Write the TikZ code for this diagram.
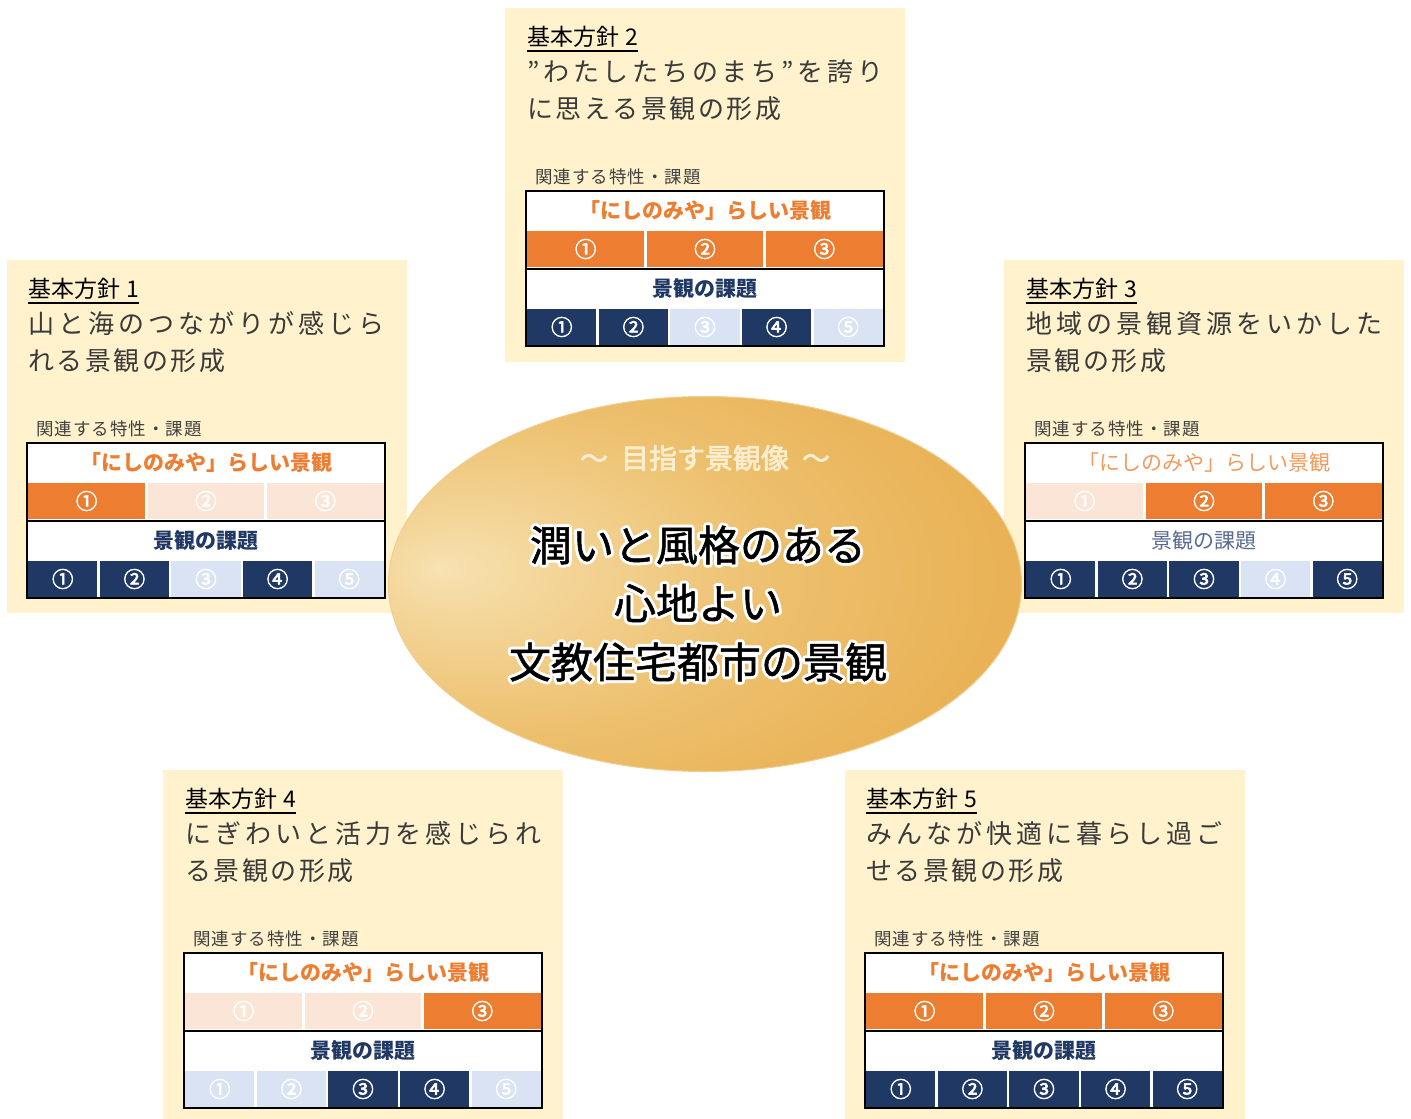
\documentclass[tikz,border=0pt]{standalone}
\usepackage{fontspec}
\setmainfont{Noto Sans CJK JP}
\usetikzlibrary{shapes.geometric,calc}
\definecolor{panelbg}{HTML}{FFF2CC}
\definecolor{OR}{HTML}{ED7D31}
\definecolor{OL}{HTML}{FBE5D6}
\definecolor{NV}{HTML}{1F3864}
\definecolor{NL}{HTML}{DAE3F3}
\definecolor{ORlt}{HTML}{F29A5C}
\definecolor{NVlt}{HTML}{5A6B92}
\definecolor{gA}{RGB}{247,226,178}
\definecolor{gA2}{RGB}{244,215,156}
\definecolor{gB}{RGB}{237,192,110}
\definecolor{gC}{RGB}{233,178,86}
\definecolor{gD}{RGB}{231,174,80}
\definecolor{rim}{RGB}{240,205,140}
\definecolor{subttl}{RGB}{251,238,208}
\definecolor{bodytxt}{RGB}{58,58,58}
\definecolor{captxt}{RGB}{64,64,64}
\pgfdeclareradialshading{goldshade}{\pgfpoint{-21bp}{2bp}}{color(0bp)=(gA); color(6bp)=(gA2); color(21bp)=(gB); color(35bp)=(gC); color(78bp)=(gD)}
\makeatletter
\def\trk@end{\trk@end@}
\def\trk@first#1{#1\trk@loop}
\def\trk@loop#1{\ifx#1\trk@end\else\trk@sp#1\expandafter\trk@loop\fi}
\def\trk#1#2{{\def\trk@sp{\hspace{#1}}\trk@first#2\trk@end}}
\def\jus#1#2{\makebox[#1][l]{\def\trk@sp{\hfill}\trk@first#2\trk@end}}
\makeatother
\newcommand\circnum[1]{\special{pdf:literal direct 2 Tr 0.6 w 1 1 1 RG}\ifcase#1\or ①\or ②\or ③\or ④\or ⑤\fi\special{pdf:literal direct 0 Tr}}
\tikzset{
  cell/.style={draw=white, line width=2.4pt, inner sep=0pt, minimum height=38pt, text=white, font=\fontsize{21.5pt}{21.5pt}\selectfont},
  hdro/.style={text=OR, inner sep=0pt, font=\bfseries\fontsize{21pt}{21pt}\selectfont},
  hdrn/.style={text=NV, inner sep=0pt, font=\bfseries\fontsize{21pt}{21pt}\selectfont},
  hdrlto/.style={text=ORlt, inner sep=0pt, font=\fontsize{21pt}{21pt}\selectfont},
  hdrltn/.style={text=NVlt, inner sep=0pt, font=\fontsize{21pt}{21pt}\selectfont},
  ttl/.style={anchor=base west, inner sep=0pt, text=black, font=\fontsize{23pt}{23pt}\selectfont},
  bodyt/.style={anchor=base west, inner sep=0pt, text=bodytxt, font=\fontsize{26pt}{26pt}\selectfont},
  capt/.style={anchor=base west, inner sep=0pt, text=captxt, font=\fontsize{17.5pt}{17.5pt}\selectfont},
  goaltxt/.style={inner sep=0pt, text=black, font=\fontsize{42pt}{42pt}\selectfont},
}
\newcommand\ptable[6]{%
  \fill[white] (#2,#3) rectangle ++(358,155);
  \node[#6o] (#1hd) at ({#2+179},{#3+19.5}) {「にしのみや」らしい景観};
  \node[#6n] (#1kd) at ({#2+179},{#3+97.5}) {景観の課題};
  \foreach \c [count=\i] in {#4} {
    \node[cell, fill=\c, minimum width=119.33pt] (#1o\i) at ({#2+(\i-0.5)*119.333},{#3+58}) {\circnum{\i}};
  }
  \foreach \c [count=\i] in {#5} {
    \node[cell, fill=\c, minimum width=71.6pt] (#1n\i) at ({#2+(\i-0.5)*71.6},{#3+136}) {\circnum{\i}};
  }
  \draw[line width=2pt] (#2,#3) rectangle ++(358,155);
  \draw[line width=2pt] (#2,{#3+78}) -- ++(358,0);
}
\newcommand\ptext[6]{%
  \node[ttl] (#1t) at ({#2+1},{#3-146}) {基本方針\hspace{6pt}#4};
  \draw[line width=1.5pt] ([yshift=-6pt]#1t.base west) -- ([yshift=-6pt]#1t.base east);
  \node[bodyt] (#1a) at ({#2+1},{#3-110}) {\jus{356pt}{#5}};
  \node[bodyt] (#1b) at ({#2+1},{#3-73}) {\trk{2.5pt}{#6}};
  \node[capt] (#1c) at ({#2+9},{#3-7.5}) {\trk{1pt}{関連する特性・課題}};
}
\newcommand\mkhalo[4]{%
  \node[goaltxt, text=white] (#1h) at (#2,#3) {\special{pdf:literal direct 1 Tr 6.5 w 1 j 1 1 1 RG}#4\special{pdf:literal direct 0 Tr}};
  \node[goaltxt] (#1) at (#2,#3) {\special{pdf:literal direct 2 Tr 0.5 w 0 0 0 RG}#4\special{pdf:literal direct 0 Tr}};
}
\begin{document}
\begin{tikzpicture}[x=1pt,y=-1pt]
\fill[white] (0,0) rectangle (1411,1119);
\useasboundingbox (0,0) rectangle (1411,1119);
% panel backgrounds
\fill[panelbg] (7,260) rectangle (407,613);
\fill[panelbg] (505,8) rectangle (905,362);
\fill[panelbg] (1004,260) rectangle (1404,613);
\fill[panelbg] (163,770) rectangle (563,1119);
\fill[panelbg] (845,770) rectangle (1245,1119);
% central ellipse
\node[ellipse, minimum width=633pt, minimum height=375pt, inner sep=0pt, shade, shading=goldshade, draw=rim, line width=1pt] (goal) at (705,584) {};
\node[inner sep=0pt, text=subttl, font=\fontsize{28pt}{28pt}\selectfont] (goalsub) at (705,458) {\special{pdf:literal direct 2 Tr 0.7 w 0.984 0.933 0.816 RG}～\hspace{13pt}目指す景観像\hspace{13pt}～\special{pdf:literal direct 0 Tr}};
\mkhalo{g1}{698}{545}{潤いと風格のある}
\mkhalo{g2}{698}{603}{心地よい}
\mkhalo{g3}{698}{662}{文教住宅都市の景観}
% panels
\ptext{p1}{27}{443}{1}{山と海のつながりが感じら}{れる景観の形成}
\ptable{p1}{27}{443}{OR,OL,OL}{NV,NV,NL,NV,NL}{hdr}
\ptext{p2}{526}{191}{2}{”わたしたちのまち”を誇り}{に思える景観の形成}
\ptable{p2}{526}{191}{OR,OR,OR}{NV,NV,NL,NV,NL}{hdr}
\ptext{p3}{1025}{443}{3}{地域の景観資源をいかした}{景観の形成}
\ptable{p3}{1025}{443}{OL,OR,OR}{NV,NV,NV,NL,NV}{hdrlt}
\ptext{p4}{184}{953}{4}{にぎわいと活力を感じられ}{る景観の形成}
\ptable{p4}{184}{953}{OL,OL,OR}{NL,NL,NV,NV,NL}{hdr}
\ptext{p5}{865}{953}{5}{みんなが快適に暮らし過ご}{せる景観の形成}
\ptable{p5}{865}{953}{OR,OR,OR}{NV,NV,NV,NV,NV}{hdr}
\end{tikzpicture}
\end{document}
